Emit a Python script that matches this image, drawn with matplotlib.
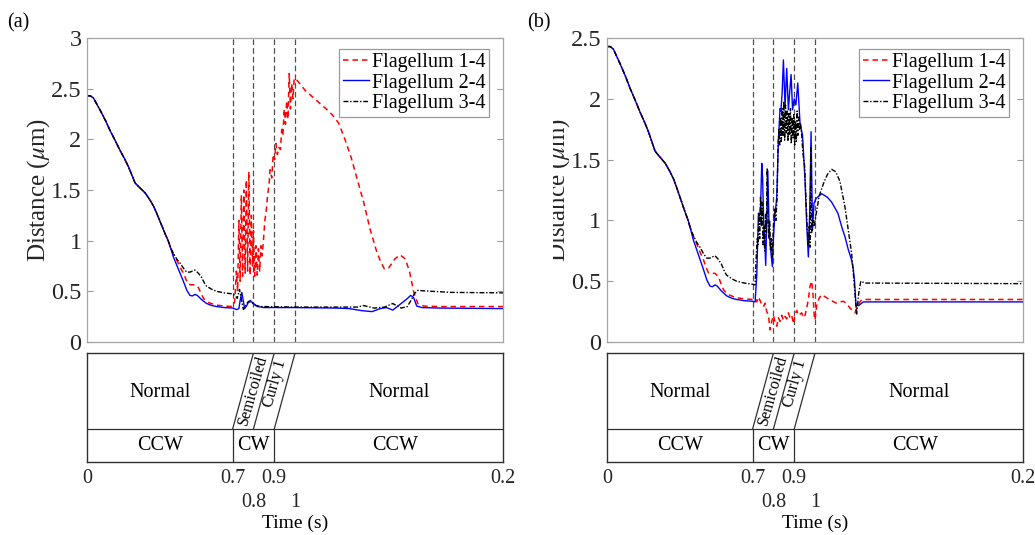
import matplotlib
matplotlib.use("Agg")
import matplotlib.pyplot as plt
import numpy as np
from matplotlib.transforms import Bbox

plt.rcParams['font.family'] = ['Liberation Serif', 'DejaVu Serif']
plt.rcParams['mathtext.fontset'] = 'stix'

# ---- data (time in s, distance in um) ----
# shared start, all three curves lie on top of each other
t_common = [0.0, 0.015, 0.03, 0.0625, 0.09, 0.11, 0.135, 0.159, 0.18, 0.199, 0.215, 0.231,
            0.245, 0.255, 0.28, 0.303, 0.32, 0.335, 0.355, 0.375, 0.39, 0.40]
d_common = [2.43, 2.43, 2.41, 2.29, 2.18, 2.09, 1.99, 1.89, 1.81, 1.73, 1.65, 1.57,
            1.54, 1.52, 1.47, 1.40, 1.34, 1.27, 1.17, 1.07, 1.00, 0.94]

# before the CW switch (same in (a) and (b))
t_red_pre = [0.415, 0.431, 0.447, 0.463, 0.475, 0.487, 0.50, 0.519, 0.535, 0.548, 0.56, 0.575,
             0.59, 0.62, 0.66, 0.70]
d_red_pre = [0.87, 0.81, 0.74, 0.68, 0.62, 0.57, 0.565, 0.565, 0.54, 0.48, 0.43, 0.40,
             0.385, 0.365, 0.355, 0.35]
t_blue_pre = [0.415, 0.431, 0.447, 0.463, 0.48, 0.495, 0.507, 0.519, 0.53, 0.55, 0.575, 0.60,
              0.623, 0.66, 0.70]
d_blue_pre = [0.84, 0.76, 0.68, 0.60, 0.51, 0.46, 0.455, 0.47, 0.46, 0.42, 0.38, 0.36,
              0.35, 0.34, 0.335]
t_black_pre = [0.415, 0.431, 0.447, 0.463, 0.479, 0.495, 0.507, 0.519, 0.535, 0.55, 0.565, 0.575,
               0.60, 0.623, 0.66, 0.70]
d_black_pre = [0.875, 0.82, 0.78, 0.73, 0.69, 0.69, 0.70, 0.71, 0.68, 0.64, 0.58, 0.55,
               0.52, 0.50, 0.485, 0.475]

# panel (a)
t_red_a = [0.71, 0.718, 0.724, 0.73, 0.736, 0.742, 0.748, 0.754, 0.76, 0.766, 0.772, 0.778,
           0.784, 0.79, 0.796, 0.80, 0.806, 0.812, 0.818, 0.824, 0.83, 0.836, 0.842, 0.848,
           0.855, 0.862, 0.868, 0.875, 0.88, 0.888, 0.895, 0.902, 0.908, 0.915, 0.922, 0.93,
           0.936, 0.942, 0.948, 0.954, 0.96, 0.966, 0.972, 0.978, 0.984, 0.99, 0.996, 1.003,
           1.015, 1.05, 1.10, 1.15, 1.18, 1.21, 1.24, 1.27, 1.30, 1.33, 1.36, 1.39, 1.41, 1.43,
           1.45, 1.48, 1.505, 1.53, 1.55, 1.57, 1.59, 1.62, 1.7, 2.0]
d_red_a = [0.40, 0.70, 0.50, 1.20, 0.60, 1.45, 0.65, 1.50, 0.68, 1.60, 0.70, 1.68,
           0.66, 1.25, 0.75, 1.10, 0.65, 0.95, 0.66, 0.92, 0.70, 0.95, 0.85, 1.00,
           1.20, 1.30, 1.45, 1.55, 1.70, 1.62, 1.85, 1.80, 1.96, 1.85, 1.92, 1.90,
           2.10, 2.05, 2.30, 2.15, 2.38, 2.20, 2.65, 2.30, 2.55, 2.40, 2.60, 2.60,
           2.57, 2.48, 2.39, 2.30, 2.24, 2.16, 2.00, 1.82, 1.60, 1.38, 1.12, 0.91, 0.80, 0.72,
           0.73, 0.82, 0.86, 0.82, 0.70, 0.50, 0.38, 0.355, 0.35, 0.35]
t_blue_a = [0.72, 0.73, 0.737, 0.744, 0.75, 0.758, 0.768, 0.778, 0.784, 0.80, 0.82, 0.85,
            1.0, 1.2, 1.26, 1.32, 1.37, 1.41, 1.44, 1.47, 1.51, 1.535, 1.556, 1.57, 1.585,
            1.61, 1.7, 2.0]
d_blue_a = [0.32, 0.33, 0.42, 0.49, 0.42, 0.33, 0.36, 0.40, 0.41, 0.38, 0.35, 0.34,
            0.34, 0.335, 0.33, 0.31, 0.30, 0.33, 0.34, 0.315, 0.38, 0.42, 0.46, 0.44, 0.355,
            0.34, 0.335, 0.33]
t_black_a = [0.715, 0.722, 0.733, 0.742, 0.752, 0.765, 0.776, 0.79, 0.81, 0.84, 1.0, 1.2,
             1.30, 1.33, 1.38, 1.43, 1.47, 1.51, 1.54, 1.56, 1.575, 1.59, 1.62, 1.75, 2.0]
d_black_a = [0.45, 0.43, 0.52, 0.42, 0.32, 0.37, 0.40, 0.39, 0.36, 0.35, 0.345, 0.345,
             0.345, 0.36, 0.335, 0.345, 0.38, 0.335, 0.35, 0.42, 0.48, 0.51, 0.505, 0.49, 0.485]

# panel (b)
t_red_b = [0.712, 0.72, 0.728, 0.736, 0.744, 0.752, 0.76, 0.768, 0.776, 0.784, 0.792, 0.80,
           0.808, 0.816, 0.824, 0.832, 0.84, 0.848, 0.856, 0.864, 0.872, 0.88, 0.888, 0.896,
           0.904, 0.912, 0.92, 0.928, 0.936, 0.944, 0.952, 0.96, 0.968, 0.976, 0.984, 0.99,
           0.996, 1.0, 1.008, 1.02, 1.032, 1.05, 1.07, 1.09, 1.104, 1.12, 1.136, 1.15, 1.168,
           1.185, 1.192, 1.205, 1.22, 1.232, 2.0]
d_red_b = [0.36, 0.33, 0.37, 0.34, 0.31, 0.29, 0.32, 0.25, 0.22, 0.10, 0.17, 0.22,
           0.16, 0.13, 0.20, 0.17, 0.22, 0.18, 0.21, 0.19, 0.24, 0.20, 0.22, 0.15,
           0.22, 0.26, 0.22, 0.23, 0.24, 0.20, 0.22, 0.28, 0.35, 0.46, 0.50, 0.40,
           0.22, 0.18, 0.30, 0.36, 0.39, 0.37, 0.35, 0.33, 0.32, 0.33, 0.335, 0.32, 0.28,
           0.25, 0.24, 0.30, 0.34, 0.35, 0.35]
t_blue_b = [0.712, 0.72, 0.728, 0.734, 0.738, 0.744, 0.748, 0.753, 0.758, 0.763, 0.768, 0.773,
            0.779, 0.785, 0.79, 0.795, 0.80, 0.806, 0.812, 0.816, 0.824, 0.832, 0.836, 0.842,
            0.848, 0.856, 0.864, 0.872, 0.878, 0.885, 0.892, 0.90, 0.908, 0.917, 0.928, 0.94,
            0.952, 0.96, 0.968, 0.975, 0.981, 0.988, 0.995, 1.005, 1.032, 1.06, 1.08, 1.11,
            1.128, 1.145, 1.16, 1.175, 1.184, 1.19, 1.197, 1.21, 1.232, 2.0]
d_blue_b = [0.33, 0.55, 1.06, 1.04, 1.10, 1.47, 1.35, 1.00, 0.85, 0.63, 1.00, 1.41,
            0.95, 0.79, 0.70, 0.62, 0.85, 1.03, 1.12, 1.19, 1.66, 1.92, 1.90, 2.05,
            2.32, 1.94, 2.25, 1.91, 2.05, 2.20, 1.91, 2.00, 1.95, 2.13, 1.80, 1.70,
            1.33, 0.97, 0.70, 1.10, 1.73, 0.92, 1.14, 1.18, 1.22, 1.19, 1.15, 1.06,
            0.95, 0.86, 0.76, 0.68, 0.60, 0.50, 0.30, 0.30, 0.33, 0.33]
t_black_b = [0.712, 0.716, 0.722, 0.726, 0.73, 0.734, 0.738, 0.742, 0.746, 0.75, 0.754, 0.758,
             0.762, 0.766, 0.77, 0.774, 0.778, 0.782, 0.786, 0.79, 0.794, 0.80, 0.806, 0.812,
             0.818, 0.822, 0.826, 0.83, 0.834, 0.838, 0.842, 0.846, 0.85, 0.854, 0.858, 0.862,
             0.866, 0.87, 0.874, 0.878, 0.882, 0.886, 0.89, 0.894, 0.898, 0.902, 0.906, 0.91,
             0.914, 0.918, 0.922, 0.926, 0.93, 0.936, 0.942, 0.95, 0.956, 0.962, 0.968, 0.972,
             0.976, 0.98, 0.984, 0.99, 0.996, 1.005, 1.02, 1.04, 1.06, 1.08, 1.10, 1.12,
             1.144, 1.16, 1.176, 1.19, 1.20, 1.21, 1.22, 1.24, 2.0]
d_black_b = [0.47, 0.65, 0.85, 0.80, 1.05, 0.85, 1.20, 0.95, 1.15, 0.80, 0.95, 0.75,
             1.05, 0.90, 1.43, 1.00, 0.85, 1.00, 0.75, 0.85, 0.70, 0.95, 1.10, 1.00,
             1.20, 1.60, 1.75, 1.62, 1.85, 1.65, 1.92, 1.70, 1.98, 1.66, 1.95, 1.72,
             1.90, 1.65, 1.88, 1.70, 1.92, 1.63, 1.85, 1.68, 1.87, 1.62, 1.82, 1.65,
             1.90, 1.70, 1.85, 1.75, 1.80, 1.70, 1.55, 1.45, 1.20, 0.95, 0.80, 0.95,
             0.78, 1.60, 0.90, 1.00, 0.95, 1.05, 1.20, 1.30, 1.38, 1.42, 1.40, 1.32,
             1.11, 0.92, 0.73, 0.45, 0.23, 0.40, 0.50, 0.485, 0.48]

switch_t = [0.7, 0.8, 0.9, 1.0]
names = ['Flagellum 1-4', 'Flagellum 2-4', 'Flagellum 3-4']
yticks_a = [0, 0.5, 1, 1.5, 2, 2.5, 3]
yticks_b = [0, 0.5, 1, 1.5, 2, 2.5]
xt_major = [0, 0.7, 0.9, 2.0]
xt_major_lab = ['0', '0.7', '0.9', '0.2']
xt_minor = [0.8, 1.0]
xt_minor_lab = ['0.8', '1']

fig = plt.figure(figsize=(10.35, 5.35), dpi=100)


def build(t_pre, d_pre, t_post, d_post):
    return (np.concatenate([t_common, t_pre, t_post]),
            np.concatenate([d_common, d_pre, d_post]))


def panel(left, letter, red, blue, black, yt, clip_x=None):
    ax = fig.add_axes([left, 0.3607, 0.4019, 0.5682])
    for tv in switch_t:
        ax.axvline(tv, color='#505050', lw=0.9, ls=(0, (4.5, 2.5)), zorder=1)
    ax.plot(*red, color='#ff0000', lw=1.1, ls=(0, (3.6, 2.6)), label=names[0])
    ax.plot(*blue, color='#0000ff', lw=1.0, label=names[1])
    ax.plot(*black, color='#000000', lw=1.0, ls=(0, (3.5, 1.3, 1.0, 1.3)), label=names[2])
    ax.set_xlim(0, 2)
    ax.set_ylim(0, yt[-1])
    ax.set_xticks([])
    ax.set_yticks(yt)
    ax.set_yticklabels([f'{v:g}' for v in yt])
    ax.tick_params(axis='y', direction='in', right=True, length=4, width=0.8,
                   labelsize=17.5, pad=4, color='#9a9a9a', labelcolor='#262626')
    for s in ax.spines.values():
        s.set_color('#a5a5a5')
        s.set_linewidth(0.9)
    ylab = ax.set_ylabel('Distance ($\\mu$m)', fontsize=18, labelpad=-0.5, color='#262626')
    if clip_x is not None:
        ylab.set_clip_box(Bbox.from_extents(clip_x, 0, 1035, 535))
        ylab.set_clip_on(True)
    leg = ax.legend(loc='upper right', bbox_to_anchor=(0.967, 0.963), borderaxespad=0,
                    fontsize=14.5, handlelength=1.25, handletextpad=0.15, labelspacing=0.05,
                    borderpad=0.2, fancybox=False, framealpha=1, edgecolor='#9a9a9a')
    leg.get_frame().set_linewidth(0.9)
    fig.text(left - 0.0775, 0.957, letter, fontsize=14.5, va='center', ha='left')

    # state bar below
    sx = fig.add_axes([left, 0.1364, 0.4019, 0.2037])
    sx.set_xlim(0, 2)
    sx.set_ylim(0, 1)
    mid = 0.303
    lc = '#303030'
    sx.axhline(mid, color=lc, lw=0.9)
    for tv in [0.7, 0.9]:
        sx.plot([tv, tv], [0, mid], color=lc, lw=0.9)
    for tv in [0.7, 0.8, 0.9]:
        sx.plot([tv, tv + 0.1], [mid, 1], color=lc, lw=0.9)
    sx.text(0.35, 0.64, 'Normal', ha='center', va='center', fontsize=14.5)
    sx.text(1.5, 0.64, 'Normal', ha='center', va='center', fontsize=14.5)
    sx.text(0.35, 0.15, 'CCW', ha='center', va='center', fontsize=14.5)
    sx.text(0.8, 0.15, 'CW', ha='center', va='center', fontsize=14.5)
    sx.text(1.48, 0.15, 'CCW', ha='center', va='center', fontsize=14.5)
    sx.text(0.80, 0.66, 'Semicoiled', ha='center', va='center', fontsize=11.5, rotation=74)
    sx.text(0.905, 0.72, 'Curly 1', ha='center', va='center', fontsize=11.5, rotation=74)
    for s in sx.spines.values():
        s.set_color(lc)
        s.set_linewidth(1.0)
    sx.set_yticks([])
    sx.set_xticks(xt_major)
    sx.set_xticklabels(xt_major_lab)
    sx.set_xticks(xt_minor, minor=True)
    sx.set_xticklabels(xt_minor_lab, minor=True)
    sx.tick_params(axis='x', which='both', length=0, labelsize=14.5, labelcolor='#262626')
    sx.tick_params(axis='x', which='major', pad=5)
    sx.tick_params(axis='x', which='minor', pad=22)
    sx.set_xlabel('Time (s)', fontsize=14, labelpad=2)
    return ax


panel(0.0841, '(a)',
      build(t_red_pre, d_red_pre, t_red_a, d_red_a),
      build(t_blue_pre, d_blue_pre, t_blue_a, d_blue_a),
      build(t_black_pre, d_black_pre, t_black_a, d_black_a),
      yticks_a)
panel(0.5865, '(b)',
      build(t_red_pre, d_red_pre, t_red_b, d_red_b),
      build(t_blue_pre, d_blue_pre, t_blue_b, d_blue_b),
      build(t_black_pre, d_black_pre, t_black_b, d_black_b),
      yticks_b, clip_x=553)

fig.savefig('out.png', dpi=100)
